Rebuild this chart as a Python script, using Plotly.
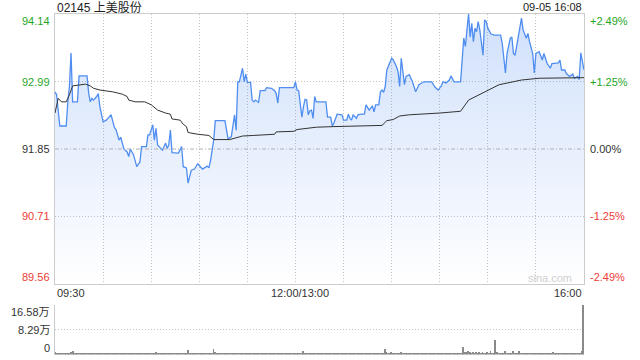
import plotly.graph_objects as go

# ---------------- data ----------------
title_text = "02145 上美股份"
stamp_text = "09-05 16:08"
prev_close = 91.85
price_ticks = [89.56, 90.71, 91.85, 92.99, 94.14]
pct_labels = ["-2.49%", "-1.25%", "0.00%", "+1.25%", "+2.49%"]
time_labels = ["09:30", "12:00/13:00", "16:00"]
time_label_min = [0, 150, 330]
vol_ticks = [0, 82900, 165800]
vol_labels = ["0", "8.29万", "16.58万"]

# trading minute since 09:30 (lunch break removed) and price
price_min = [0, 1, 3, 7, 8, 9, 10, 11, 14, 15,
             20, 21, 22, 23, 24, 26, 27, 28, 30, 32,
             33, 35, 37, 38, 40, 41, 43, 45, 46, 47,
             49, 51, 53, 54, 57, 58, 59, 61, 62, 63,
             64, 67, 69, 70, 71, 72, 73, 77, 79, 80,
             82, 83, 85, 87, 89, 92, 95, 96, 97, 99,
             100, 106, 108, 110, 112, 113, 114, 115, 117, 118,
             119, 120, 122, 123, 124, 125, 127, 128, 131, 132,
             135, 137, 138, 139, 140, 149, 150, 151, 152, 153,
             154, 155, 156, 157, 158, 159, 160, 161, 162, 163,
             164, 169, 170, 172, 173, 174, 176, 178, 179, 180,
             182, 183, 184, 185, 186, 188, 189, 191, 193, 194,
             196, 198, 199, 200, 202, 203, 204, 205, 206, 207,
             208, 210, 211, 213, 214, 215, 216, 217, 218, 219,
             221, 223, 225, 227, 230, 235, 237, 239, 241, 242,
             244, 246, 247, 249, 253, 255, 256, 257, 258, 259,
             260, 261, 262, 263, 264, 265, 267, 268, 269, 270,
             272, 274, 278, 279, 281, 282, 284, 285, 286, 287,
             289, 291, 292, 294, 295, 296, 298, 299, 300, 302,
             304, 305, 307, 309, 310, 314, 315, 316, 318, 319,
             321, 323, 324, 326, 327, 328, 330]
price_val = [92.82, 92.77, 92.24, 92.24, 92.65, 92.91, 93.48, 92.65, 92.65, 93.09,
             93.09, 92.80, 92.65, 92.71, 92.68, 92.74, 92.79, 92.57, 92.31, 92.34,
             92.37, 92.43, 92.22, 92.18, 92.00, 92.05, 91.85, 91.80, 91.72, 91.85,
             91.75, 91.55, 91.63, 91.89, 91.89, 92.09, 92.09, 92.26, 92.00, 92.20,
             91.92, 91.83, 91.95, 91.86, 91.92, 92.17, 91.79, 91.78, 91.89, 91.55,
             91.53, 91.27, 91.49, 91.51, 91.60, 91.51, 91.56, 91.53, 91.65, 92.00,
             92.33, 92.33, 92.02, 92.06, 92.43, 92.17, 92.99, 92.99, 93.22, 92.99,
             93.12, 92.98, 92.98, 92.68, 92.65, 92.68, 92.64, 92.84, 92.84, 92.89,
             92.88, 92.84, 92.79, 92.63, 92.89, 92.89, 92.99, 92.85, 92.84, 92.60,
             92.39, 92.57, 92.69, 92.68, 92.43, 92.50, 92.51, 92.37, 92.74, 92.65,
             92.65, 92.65, 92.39, 92.39, 92.24, 92.29, 92.44, 92.44, 92.43, 92.34,
             92.34, 92.44, 92.37, 92.34, 92.43, 92.37, 92.43, 92.44, 92.44, 92.60,
             92.51, 92.58, 92.48, 92.60, 92.60, 92.82, 92.85, 92.81, 92.91, 93.19,
             93.25, 93.39, 93.36, 93.25, 93.16, 92.91, 93.39, 93.13, 92.94, 93.08,
             93.11, 92.99, 92.82, 92.94, 92.99, 92.99, 92.90, 92.85, 92.92, 92.99,
             92.97, 93.02, 93.09, 92.99, 92.99, 93.73, 93.59, 93.87, 94.14, 93.75,
             93.98, 93.67, 93.90, 93.84, 94.01, 93.87, 93.44, 94.04, 94.01, 93.90,
             93.80, 93.78, 93.78, 93.64, 93.14, 93.47, 93.73, 93.75, 93.47, 93.44,
             93.73, 94.07, 93.87, 93.73, 93.81, 93.67, 93.47, 93.14, 93.47, 93.50,
             93.36, 93.47, 93.30, 93.22, 93.30, 93.31, 93.36, 93.19, 93.19, 93.13,
             93.08, 93.12, 93.05, 93.08, 93.03, 93.48, 93.19]

avg_min = [0, 2, 4, 7, 9, 11, 19, 22, 24, 28,
           36, 42, 45, 46, 50, 56, 60, 64, 69, 72,
           73, 78, 80, 82, 83, 89, 96, 99, 109, 114,
           117, 124, 137, 138, 149, 151, 157, 163, 174, 192,
           204, 207, 211, 215, 221, 240, 253, 258, 271, 277,
           291, 302, 330]
avg_val = [92.46, 92.71, 92.65, 92.65, 92.77, 92.92, 92.95, 92.92, 92.88, 92.85,
           92.82, 92.78, 92.74, 92.68, 92.65, 92.65, 92.60, 92.51, 92.46, 92.44,
           92.36, 92.34, 92.27, 92.23, 92.13, 92.10, 92.08, 92.01, 92.01, 92.05,
           92.07, 92.08, 92.10, 92.14, 92.15, 92.18, 92.20, 92.22, 92.23, 92.24,
           92.25, 92.33, 92.35, 92.41, 92.43, 92.46, 92.49, 92.68, 92.85, 92.94,
           93.02, 93.05, 93.06]

# volume per trading minute, in 万 shares (minute 0 .. 330)
vol_wan = [
    0.9, 0.4, 0.3, 0.5, 0.2, 0.4, 0.6, 0.3, 0.5, 0.4, 0.7, 1.1, 0.4, 0.3, 0.2, 0.5, 0.3, 0.4, 0.2, 0.3,
    0.4, 0.3, 0.5, 0.2, 0.3, 0.4, 0.2, 0.3, 0.5, 0.4, 0.3, 0.2, 0.4, 0.3, 0.5, 0.3, 0.2, 0.4, 0.3, 0.5,
    0.3, 0.4, 0.2, 0.5, 0.3, 0.4, 0.3, 0.2, 0.4, 0.3, 0.5, 0.4, 0.3, 0.2, 0.4, 0.5, 0.3, 0.4, 0.6, 0.3,
    0.4, 0.3, 0.5, 0.7, 0.3, 0.4, 0.2, 0.5, 0.3, 0.4, 0.3, 0.6, 0.4, 0.3, 0.6, 0.4, 0.3, 0.5, 0.3, 0.4,
    0.5, 0.3, 0.4, 1.5, 0.6, 0.4, 0.3, 0.5, 0.4, 0.3, 0.4, 0.2, 0.5, 0.3, 0.4, 0.3, 0.5, 0.4, 0.6, 1.8,
    0.7, 0.4, 0.3, 0.5, 0.4, 0.3, 0.2, 0.4, 0.5, 0.3, 0.4, 0.3, 0.6, 0.4, 0.5, 0.3, 0.4, 0.3, 0.5, 0.4,
    0.3, 0.4, 0.2, 0.3, 0.5, 0.3, 0.4, 0.2, 0.3, 0.4, 0.3, 0.5, 0.2, 0.3, 0.4, 0.3, 0.2, 0.4, 0.3, 0.5,
    0.3, 0.2, 0.4, 0.3, 0.2, 0.3, 0.4, 0.2, 0.3, 0.6, 0.5, 0.4, 0.3, 0.5, 0.4, 1.3, 0.4, 0.3, 0.5, 0.4,
    0.3, 0.4, 0.3, 0.2, 0.4, 0.3, 0.5, 0.3, 0.4, 0.2, 0.3, 0.5, 0.4, 0.3, 0.4, 0.2, 0.3, 0.4, 0.3, 0.5,
    0.4, 0.3, 0.2, 0.4, 0.3, 0.5, 0.3, 0.4, 0.3, 0.2, 0.4, 0.3, 0.5, 0.3, 0.6, 0.4, 0.3, 0.5, 0.4, 0.3,
    0.4, 0.3, 0.5, 0.6, 0.4, 0.5, 1.7, 0.8, 0.6, 0.5, 0.7, 0.4, 0.5, 0.3, 0.6, 0.4, 0.7, 0.5, 0.4, 0.3,
    0.4, 0.3, 0.5, 0.3, 0.4, 0.2, 0.3, 0.4, 0.3, 0.2, 0.4, 0.3, 0.2, 0.3, 0.4, 0.3, 0.2, 0.4, 0.3, 0.5,
    0.3, 0.4, 0.3, 0.2, 0.4, 0.3, 0.5, 0.4, 0.3, 0.2, 0.4, 0.3, 0.5, 0.4, 0.6, 2.5, 0.9, 0.7, 1.3, 0.8,
    0.6, 0.9, 0.5, 0.7, 0.6, 0.8, 0.5, 0.9, 0.6, 0.5, 0.7, 0.4, 1.3, 0.6, 0.5, 4.8, 0.7, 0.5, 0.6, 0.4,
    0.5, 1.3, 0.6, 0.4, 0.5, 0.6, 1.3, 0.5, 0.4, 0.6, 1.1, 0.5, 0.4, 0.3, 0.5, 0.4, 0.3, 0.4, 0.5, 0.3,
    0.4, 0.3, 0.5, 0.4, 0.3, 0.2, 0.4, 0.3, 0.5, 0.4, 0.3, 0.7, 0.4, 0.3, 0.2, 0.4, 0.3, 0.5, 0.3, 0.4,
    0.3, 0.5, 0.4, 0.3, 0.6, 0.4, 0.3, 0.5, 0.6, 1.1, 16.5,
]

# ---------------- styling ----------------
W, H = 640, 360
FONT = "Liberation Sans, Arial, Noto Sans CJK SC, sans-serif"
GREEN = "#1fa61f"
RED = "#ec3c36"
DARK = "#333333"
GRID = "#c4c4c4"
GRID_DASH = "1px,2px"
BORDER = "#cccccc"

px_left, px_right = 55, 584
px_top, px_bottom = 14, 284
vol_top, vol_bottom = 305, 354.5

xd = [px_left / W, px_right / W]

fig = go.Figure()

fig.add_trace(go.Scatter(
    x=price_min, y=price_val, mode="lines",
    line=dict(color="#4f8ef0", width=1.3),
    fill="tozeroy",
    fillgradient=dict(type="vertical",
                      colorscale=[[0, "rgba(80,140,240,0.0)"], [1, "rgba(80,140,240,0.27)"]],
                      start=price_ticks[0], stop=price_ticks[-1]),
    xaxis="x", yaxis="y", hoverinfo="skip", showlegend=False,
))
fig.add_trace(go.Scatter(
    x=avg_min, y=avg_val, mode="lines",
    line=dict(color="#333333", width=1),
    xaxis="x", yaxis="y", hoverinfo="skip", showlegend=False,
))
fig.add_trace(go.Bar(
    x=list(range(len(vol_wan))), y=[v * 10000 for v in vol_wan],
    marker=dict(color="#8a8a8a", line=dict(width=0)), width=0.6,
    xaxis="x2", yaxis="y2", hoverinfo="skip", showlegend=False,
))

fig.add_shape(type="line", xref="paper", yref="y",
              x0=xd[0], x1=xd[1], y0=prev_close, y1=prev_close,
              line=dict(color="#b0b0b0", width=1, dash="4px,2px,1px,2px"), layer="above")

ann = []
label_colors = [RED, RED, DARK, GREEN, GREEN]
for i, (v, pl, c) in enumerate(zip(price_ticks, pct_labels, label_colors)):
    ya = "bottom" if i == 0 else ("top" if i == len(price_ticks) - 1 else "middle")
    ann.append(dict(text=f"{v:.2f}", xref="paper", yref="y", x=51 / W, y=v,
                    xanchor="right", yanchor=ya, showarrow=False,
                    font=dict(size=11, color=c, family=FONT), borderpad=0))
    ann.append(dict(text=pl, xref="paper", yref="y", x=589 / W, y=v,
                    xanchor="left", yanchor=ya, showarrow=False,
                    font=dict(size=11, color=c, family=FONT), borderpad=0))

anchors = ["left", "center", "right"]
for t, m, a in zip(time_labels, time_label_min, anchors):
    ann.append(dict(text=t, xref="x", yref="paper", x=m, y=1 - 293 / H,
                    xanchor=a, yanchor="middle", showarrow=False,
                    xshift=5 if a == "center" else 0,
                    font=dict(size=11, color=DARK, family=FONT)))

for i, (v, t) in enumerate(zip(vol_ticks, vol_labels)):
    ya = "bottom" if i == 0 else ("top" if i == len(vol_ticks) - 1 else "middle")
    ann.append(dict(text=t, xref="paper", yref="y2", x=51 / W, y=v,
                    xanchor="right", yanchor=ya, showarrow=False, borderpad=0,
                    font=dict(size=11, color=DARK, family=FONT)))

ann.append(dict(text=title_text, xref="paper", yref="paper", x=px_left / W, y=1 - 8 / H,
                xanchor="left", yanchor="middle", showarrow=False,
                font=dict(size=12, color="#222222", family=FONT)))
ann.append(dict(text=stamp_text, xref="paper", yref="paper", x=px_right / W, y=1 - 7 / H,
                xanchor="right", yanchor="middle", showarrow=False,
                font=dict(size=11, color="#222222", family=FONT)))
ann.append(dict(text="sina.com", xref="paper", yref="paper", x=574 / W, y=1 - 278 / H,
                xanchor="right", yanchor="middle", showarrow=False,
                font=dict(size=11, color="#cfcfcf", family=FONT)))

fig.update_layout(
    width=W, height=H, margin=dict(l=0, r=0, t=0, b=0),
    paper_bgcolor="white", plot_bgcolor="white",
    font=dict(family=FONT, size=11, color=DARK),
    bargap=0,
    annotations=ann,
    xaxis=dict(domain=xd, range=[0, 330], anchor="y",
               tickvals=list(range(0, 331, 30)), showticklabels=False, ticks="",
               showgrid=True, gridcolor=GRID, griddash=GRID_DASH, gridwidth=1,
               showline=True, linecolor=BORDER, linewidth=1, mirror=True, zeroline=False),
    yaxis=dict(domain=[1 - px_bottom / H, 1 - px_top / H], range=[price_ticks[0], price_ticks[-1]],
               anchor="x", tickvals=[price_ticks[1], price_ticks[3]], showticklabels=False, ticks="",
               showgrid=True, gridcolor=GRID, griddash=GRID_DASH, gridwidth=1,
               showline=True, linecolor=BORDER, linewidth=1, mirror=True, zeroline=False),
    xaxis2=dict(domain=xd, range=[0, 330.4], anchor="y2", showticklabels=False, ticks="",
                showgrid=False, showline=False, zeroline=False),
    yaxis2=dict(domain=[1 - vol_bottom / H, 1 - vol_top / H], range=[0, vol_ticks[-1]],
                anchor="x2", tickvals=vol_ticks[1:], showticklabels=False, ticks="",
                showgrid=True, gridcolor=GRID, griddash=GRID_DASH, gridwidth=1,
                showline=True, linecolor=BORDER, linewidth=1, zeroline=False),
)

fig.write_html("out.html")
